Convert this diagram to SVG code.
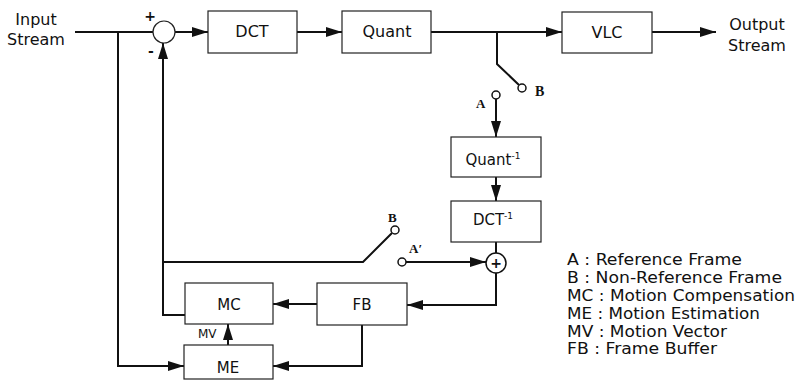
<svg xmlns="http://www.w3.org/2000/svg" width="799" height="381" viewBox="0 0 799 381">
<style>
.box{fill:#fff;stroke:#222;stroke-width:1.2}
.ln{fill:none;stroke:#111;stroke-width:2}
.t{font-family:"DejaVu Sans","Liberation Sans",sans-serif;font-size:15px;fill:#111}
.lbl{font-family:"DejaVu Sans","Liberation Sans",sans-serif;font-size:16px;fill:#111;text-anchor:middle}
.sm{font-size:15px}
.sign{font-size:14px;font-weight:bold}
.mv{font-family:"DejaVu Sans","Liberation Sans",sans-serif;font-size:12px;fill:#111}
.sw{font-family:"Liberation Serif",serif;font-weight:bold;font-size:13px;fill:#111}
.term{fill:#fff;stroke:#111;stroke-width:1.5}
.ar{marker-end:url(#ah)}
</style>
<defs>
<marker id="ah" markerUnits="userSpaceOnUse" markerWidth="17" markerHeight="11" refX="16" refY="5" orient="auto">
<path d="M0,0 L16,5 L0,10 z" fill="#111"/>
</marker>
</defs>
<g id="input-label">
<text class="lbl" x="36" y="25">Input</text>
<text class="lbl" x="36" y="45">Stream</text>
</g>
<g id="output-label">
<text class="lbl" x="757" y="30">Output</text>
<text class="lbl" x="757" y="51">Stream</text>
</g>
<g id="connectors">
<line class="ln" x1="75" y1="32" x2="153" y2="32"/>
<line class="ln ar" x1="175" y1="32" x2="208" y2="32"/>
<line class="ln ar" x1="297" y1="32" x2="342" y2="32"/>
<line class="ln ar" x1="431" y1="32" x2="562" y2="32"/>
<line class="ln ar" x1="652" y1="32" x2="716" y2="32"/>
<polyline class="ln" points="497,32 497,64 519,85"/>
<line class="ln ar" x1="496" y1="99" x2="496" y2="137"/>
<line class="ln ar" x1="496" y1="177" x2="496" y2="201"/>
<line class="ln" x1="496" y1="242" x2="496" y2="253"/>
<line class="ln ar" x1="406" y1="262" x2="486" y2="262"/>
<polyline class="ln ar" points="496,273 496,305 407,305"/>
<line class="ln ar" x1="317" y1="304" x2="273" y2="304"/>
<polyline class="ln ar" points="362,325 362,366 273,366"/>
<polyline class="ln ar" points="118,32 118,366 184,366"/>
<line class="ln ar" x1="228" y1="345" x2="228" y2="324"/>
<polyline class="ln ar" points="185,315 163,315 163,43"/>
<polyline class="ln" points="392,233 363,262 163,262"/>
</g>
<g id="subtractor">
<circle cx="164" cy="32" r="11" fill="#fff" stroke="#222" stroke-width="1.2"/>
<text class="lbl sign" x="150" y="21">+</text>
<text class="lbl sign" x="151" y="56">-</text>
</g>
<g id="dct">
<rect class="box" x="208" y="11" width="89" height="42"/>
<text class="lbl" x="252" y="37">DCT</text>
</g>
<g id="quant">
<rect class="box" x="342" y="11" width="89" height="42"/>
<text class="lbl" x="387" y="37">Quant</text>
</g>
<g id="vlc">
<rect class="box" x="562" y="12" width="90" height="41"/>
<text class="lbl" x="607" y="38">VLC</text>
</g>
<g id="switch-top">
<circle class="term" cx="522" cy="88" r="4"/>
<text class="sw" x="535" y="96" style="font-size:14px">B</text>
<circle class="term" cx="496" cy="95" r="4"/>
<text class="sw" x="476" y="108">A</text>
</g>
<g id="iquant">
<rect class="box" x="451" y="137" width="90" height="40"/>
<text class="lbl sm" x="493" y="165">Quant<tspan dy="-6" style="font-size:9px">-1</tspan></text>
</g>
<g id="idct">
<rect class="box" x="451" y="201" width="90" height="41"/>
<text class="lbl sm" x="493" y="225">DCT<tspan dy="-6" style="font-size:9px">-1</tspan></text>
</g>
<g id="adder">
<circle cx="496" cy="263" r="10" fill="#fff" stroke="#111" stroke-width="1.5"/>
<text class="lbl sign" x="496" y="268">+</text>
</g>
<g id="switch-bottom">
<circle class="term" cx="395" cy="230" r="4"/>
<text class="sw" x="388" y="222">B</text>
<circle class="term" cx="402" cy="262" r="4"/>
<text class="sw" x="409" y="253">A′</text>
</g>
<g id="fb">
<rect class="box" x="317" y="283" width="90" height="42"/>
<text class="lbl sm" x="362" y="310">FB</text>
</g>
<g id="mc">
<rect class="box" x="185" y="283" width="88" height="41"/>
<text class="lbl sm" x="229" y="310">MC</text>
</g>
<g id="me">
<rect class="box" x="184" y="345" width="89" height="34"/>
<text class="lbl sm" x="228" y="373">ME</text>
</g>
<text class="mv" x="198" y="338">MV</text>
<g id="legend">
<text class="t" x="567" y="265" textLength="175" lengthAdjust="spacingAndGlyphs">A : Reference Frame</text>
<text class="t" x="567" y="283" textLength="215" lengthAdjust="spacingAndGlyphs">B : Non-Reference Frame</text>
<text class="t" x="567" y="301" textLength="228" lengthAdjust="spacingAndGlyphs">MC : Motion Compensation</text>
<text class="t" x="567" y="319" textLength="193" lengthAdjust="spacingAndGlyphs">ME : Motion Estimation</text>
<text class="t" x="567" y="337" textLength="160" lengthAdjust="spacingAndGlyphs">MV : Motion Vector</text>
<text class="t" x="567" y="354" textLength="150" lengthAdjust="spacingAndGlyphs">FB : Frame Buffer</text>
</g>
</svg>
